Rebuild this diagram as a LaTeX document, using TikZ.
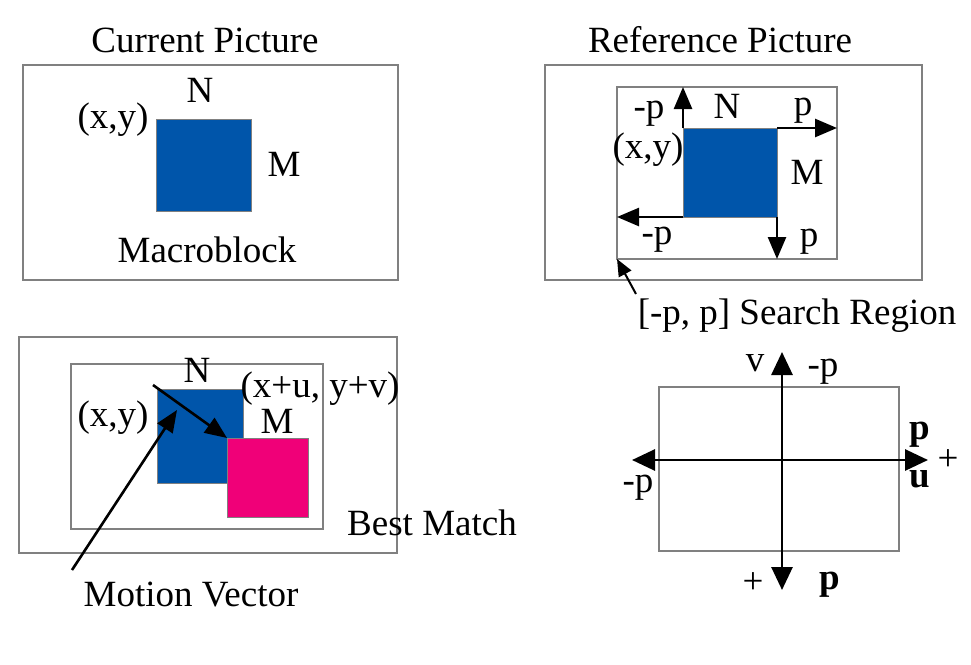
\documentclass[tikz,border=0pt]{standalone}
\usepackage{fontspec}
\setmainfont{Liberation Serif}
\usetikzlibrary{arrows.meta}
\definecolor{mbblue}{RGB}{0,85,170}
\definecolor{mbpink}{RGB}{240,0,120}
\definecolor{framegray}{RGB}{128,128,128}

\begin{document}
\begin{tikzpicture}[x=1pt,y=-1pt,
    every node/.style = {font=\fontsize{37}{42}\selectfont, inner sep=0pt, outer sep=0pt},
    frame/.style = {draw=framegray, line width=1.5pt},
    block/.style = {draw=framegray, line width=1pt},
    vec/.style = {-{Triangle[length=22pt,width=18pt]}, line width=2.6pt},
    axis/.style = {{Triangle[length=23pt,width=21pt]}-{Triangle[length=23pt,width=21pt]}, line width=2.8pt}]
  \useasboundingbox (0,0) rectangle (971,664);

  \node (ctitle) at (205,40) {Current Picture};
  \node[frame, minimum width=375, minimum height=215] (cpic) at (210.5,172.5) {};
  \node[block, fill=mbblue, minimum width=95, minimum height=92] (cmb) at (203.5,165) {};
  \node (cn) at (200,90) {N};
  \node (cxy) at (113,120) {(x,y)};
  \node (cm) at (284,164) {M};
  \node (cmacro) at (207,250) {Macroblock};

  \node (rtitle) at (720,40) {Reference Picture};
  \node[frame, minimum width=377, minimum height=215] (rpic) at (733.5,172.5) {};
  \node[frame, minimum width=220, minimum height=172] (rwin) at (727,173) {};
  \node[block, fill=mbblue, minimum width=94, minimum height=89] (rmb) at (730,172.5) {};
  \draw[vec] (rmb.north west) -- (rmb.north west |- rwin.north);
  \draw[vec] (rmb.north east) -- (rmb.north east -| rwin.east);
  \draw[vec] (rmb.south west) -- (rmb.south west -| rwin.west);
  \draw[vec] (rmb.south east) -- (rmb.south east |- rwin.south);
  \node (rmp) at (649,114) {-p};
  \node (rxy) at (648,150) {(x,y)};
  \node (rn) at (727,106) {N};
  \node (rp) at (803,111) {p};
  \node (rm) at (807,172) {M};
  \node (rmpb) at (657,240) {-p};
  \node (rpb) at (809,242) {p};
  \node (search) at (797,316) {[-p, p] Search Region};
  \coordinate (srtail) at (636,294);
  \draw[-{Triangle[length=17pt,width=14pt]}, line width=2pt] (srtail) -- (rwin.south west);

  \node[frame, minimum width=378, minimum height=216] (bpic) at (208,445) {};
  \node[frame, minimum width=252, minimum height=165] (bwin) at (197,446.5) {};
  \node[block, fill=mbblue, minimum width=86, minimum height=94] (bmb) at (200,436) {};
  \node[block, fill=mbpink, minimum width=81, minimum height=79] (best) at (267.5,477.5) {};
  \coordinate (uvstart) at (153,385);
  \draw[vec] (uvstart) -- (best.north west);
  \coordinate (mvtail) at (72,570);
  \coordinate (mvhead) at (177,410);
  \draw[vec] (mvtail) -- (mvhead);
  \node (bn) at (197,370) {N};
  \node (buv) at (320,389) {(x+u, y+v)};
  \node (bm) at (277,421) {M};
  \node (bxy) at (113,418) {(x,y)};
  \node (bestlab) at (432,523) {Best Match};
  \node (mvlab) at (191,595) {Motion Vector};

  \node[frame, minimum width=240, minimum height=164] (srange) at (779,469) {};
  \coordinate (vtop) at (782,352);
  \coordinate (vbot) at (782,590);
  \coordinate (uleft) at (632,460);
  \coordinate (uright) at (928,460);
  \draw[axis] (vbot) -- (vtop);
  \draw[axis] (uleft) -- (uright);
  \node (vlab) at (755,363) {v};
  \node (vmp) at (823,372) {-p};
  \node (up) at (920,435) {\bfseries p};
  \node (uplus) at (948,460) {+};
  \node (ulab) at (920,479) {\bfseries u};
  \node (ump) at (638,488) {-p};
  \node (vplus) at (753,583) {+};
  \node (vp) at (830,585) {\bfseries p};
\end{tikzpicture}
\end{document}
